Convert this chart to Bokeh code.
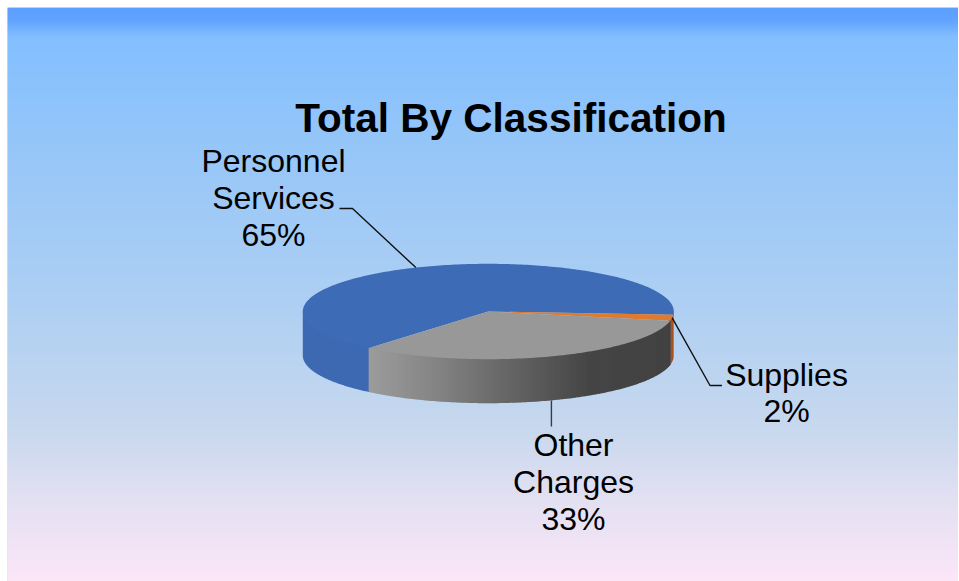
from math import cos, sin, radians
from bokeh.plotting import figure
from bokeh.models import Range1d
from bokeh.core.properties import value
from bokeh.embed import file_html
from bokeh.resources import INLINE

# ---- data ----
title_text = "Total By Classification"
categories = ["Personnel Services", "Supplies", "Other Charges"]
label_lines = [["Personnel", "Services"], ["Supplies"], ["Other", "Charges"]]
values = [65, 2, 33]
top_colors = ["#3d6bb5", "#e07a2e", "#989898"]
wall_colors = ["#3c69b2", "#a8521a", "#999999"]

# ---- page / pie geometry (picture pixels) ----
X0, Y0, X1, Y1 = 7, 7, 958, 581
CX, CY, RX, RY, DEPTH = 487.8, 311.0, 185.5, 47.7, 44.0
START_DEG = 130.0
TUCK = 2.0  # walls run this far under the top face, so no seam shows

bg_stops = [(7, (91, 158, 255)), (20, (98, 163, 255)), (37, (131, 191, 255)),
            (150, (150, 198, 248)), (300, (173, 207, 243)), (430, (200, 216, 238)),
            (500, (227, 224, 242)), (581, (251, 230, 248))]
wall_stops = [(368, (156, 156, 156)), (430, (134, 134, 134)), (500, (104, 104, 104)),
              (590, (68, 68, 68)), (675, (66, 66, 66))]


def lerp(stops, t):
    for (a, ca), (b, cb) in zip(stops, stops[1:]):
        if t <= b:
            f = max(0.0, (t - a) / (b - a))
            return tuple(round(u + (v - u) * f) for u, v in zip(ca, cb))
    return stops[-1][1]


def hexc(c):
    return "#%02x%02x%02x" % tuple(c)


def px(deg):
    return CX + RX * cos(radians(deg))


def py(deg):
    return CY + RY * sin(radians(deg))


def arc(a, b, n=120):
    return [a + (b - a) * i / n for i in range(n + 1)]


p = figure(width=X1 - X0, height=Y1 - Y0, output_backend="svg", toolbar_location=None,
           x_range=Range1d(X0, X1), y_range=Range1d(Y1, Y0), min_border=0,
           outline_line_color=None, background_fill_color="#b0d0f0",
           margin=(Y0, 0, 0, X0))
p.axis.visible = False
p.grid.visible = False

# background gradient, one row at a time (each row overlaps the next by a pixel)
rows = list(range(Y0, Y1))
p.quad(left=X0, right=X1, top=rows, bottom=[min(r + 2, Y1) for r in rows],
       fill_color=[hexc(lerp(bg_stops, r + 0.5)) for r in rows], line_color=None)

# slice angles from the values
total = sum(values)
angles = []
a = START_DEG
for v in values:
    b = a + 360.0 * v / total
    angles.append((a, b))
    a = b

# outer walls: visible only on the near half of the ellipse
for (a, b), col, i in zip(angles, wall_colors, range(3)):
    spans = []
    for k in (-360, 0, 360):
        lo, hi = max(a + k, 0), min(b + k, 180)
        if lo < hi:
            spans.append((lo, hi))
    for lo, hi in spans:
        th = arc(lo, hi)
        if i == 2:
            # grey wall: horizontal gradient in narrow columns
            n = 150
            th = arc(lo, hi, n)
            xs, ys, cs = [], [], []
            for t0, t1 in zip(th, th[1:]):
                xa, xb = px(t0), px(t1)
                xs.append([xa + 0.4, xb - 0.4, xb - 0.4, xa + 0.4])
                ys.append([py(t0) - TUCK, py(t1) - TUCK, py(t1) + DEPTH, py(t0) + DEPTH])
                cs.append(hexc(lerp(wall_stops, (xa + xb) / 2)))
            p.patches(xs, ys, fill_color=cs, line_color=None)
        else:
            xs = [px(t) for t in th] + [px(t) for t in reversed(th)]
            ys = [py(t) - TUCK for t in th] + [py(t) + DEPTH for t in reversed(th)]
            p.patch(xs, ys, fill_color=col, line_color=None)

# top faces
for (a, b), col in zip(angles, top_colors):
    th = arc(a, b, 240)
    p.patch([CX] + [px(t) for t in th], [CY] + [py(t) for t in th],
            fill_color=col, line_color=None)

# leader lines, anchored on each slice's middle
mids = [(a + b) / 2 for a, b in angles]
LEADER = "#111111"
m = mids[0]
p.line([px(m), 352, 339], [py(m), 208, 208], line_color=LEADER, line_width=1.4)
m = mids[1]
p.line([px(m), 709.5, 721.5], [py(m), 385, 385], line_color=LEADER, line_width=1.4)
m = mids[2]
p.line([px(m) + 1.5, px(m) + 1.5], [py(m) + DEPTH, 426], line_color="#333d4a", line_width=1.4)

# labels
label_pos = [(273, [160, 197, 234]), (786, [374, 410]), (573, [444, 481, 518])]
tx, ty, tt = [], [], []
for lines, v, (x, ys) in zip(label_lines, values, label_pos):
    for s, y in zip(lines + [f"{v}%"], ys):
        tx.append(x)
        ty.append(y)
        tt.append(s)
p.text(tx, ty, text=tt, text_font=value("Liberation Sans"), text_font_size="32px",
       text_color="#000000", text_align="center", text_baseline="alphabetic")

p.text([510.5], [117], text=[title_text], text_font=value("Liberation Sans"),
       text_font_style="bold", text_font_size="40.5px", text_color="#000000",
       text_align="center", text_baseline="alphabetic")

open("out.html", "w").write(file_html(p, INLINE))
